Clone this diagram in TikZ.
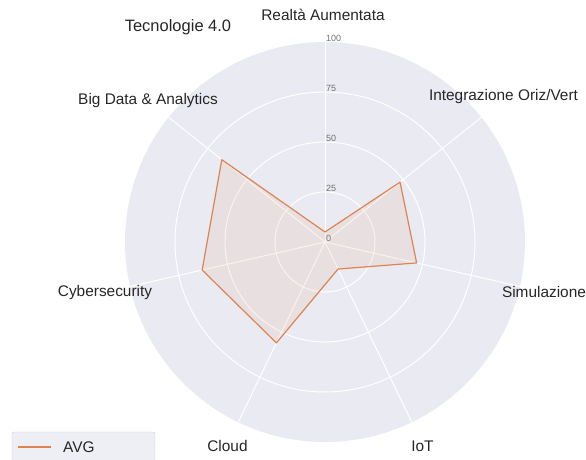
\documentclass[tikz,border=0pt]{standalone}
\usepackage{fontspec}
\setmainfont{Liberation Sans}
\usetikzlibrary{calc}
\definecolor{panel}{HTML}{EAEAF2}
\definecolor{avgline}{HTML}{DD8452}
\definecolor{ink}{HTML}{262626}
\definecolor{tickgray}{HTML}{707070}
\tikzset{
  axislabel/.style={text=ink, font=\fontsize{15.4}{18}\selectfont, inner sep=0pt},
  ticklabel/.style={text=tickgray, font=\fontsize{9}{10}\selectfont, anchor=west, inner sep=0pt},
  gridline/.style={white, line width=1pt},
}

\begin{document}
\begin{tikzpicture}[x=1pt,y=1pt]
		\useasboundingbox (-325,-218) rectangle (261,242);
		%%%%% START %%%%%
		
		\fill[panel] (0,0) circle (200);
		\foreach \r in {50,100,150} \draw[gridline] (0,0) circle (\r);
		\foreach \i in {0,...,6} \draw[gridline] (0,0) -- ({90-\i*360/7}:200);
		
		\foreach \t in {0,25,50,75,100} \node[ticklabel] (tick\t) at (1,{2*\t+4}) {\t};
		
		% AVG values
		\foreach \v [count=\i from 0] in {5,48,47,15,56,63,66}
			\coordinate (p\i) at ({90-\i*360/7}:{2*\v});
		\draw[avgline, line width=1.2pt, line join=round, fill=avgline, fill opacity=0.1]
			(p0) -- (p1) -- (p2) -- (p3) -- (p4) -- (p5) -- (p6) -- cycle;
		
		\node[axislabel] (realta) at (-2,227) {Realtà Aumentata};
		\node[axislabel] (integr) at (178.5,145) {Integrazione Oriz/Vert};
		\node[axislabel] (simul) at (219,-50) {Simulazione};
		\node[axislabel] (iot) at (97.5,-204) {IoT};
		\node[axislabel] (cloud) at (-97.5,-204) {Cloud};
		\node[axislabel] (cyber) at (-220,-51) {Cybersecurity};
		\node[axislabel] (bigdata) at (-177,141) {Big Data \& Analytics};
		
		\node[text=ink, font=\fontsize{16.5}{20}\selectfont, inner sep=0pt] (title) at (-147,215) {Tecnologie 4.0};
		
		% legend
		\draw[rounded corners=2pt, draw=black!20, fill=panel!80] (-313,-190) rectangle (-170,-240);
		\coordinate (legA) at (-307,-205);
		\coordinate (legB) at (-274,-205);
		\draw[avgline, line width=1.2pt] (legA) -- (legB);
		\node[axislabel, anchor=west] (legtxt) at (-262,-205) {AVG};
		
		%%%%% END %%%%%
\end{tikzpicture}
\end{document}
